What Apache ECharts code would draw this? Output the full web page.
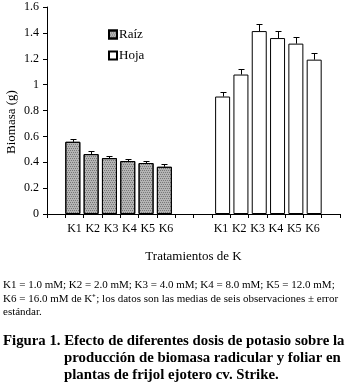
<!DOCTYPE html>
<html>
<head>
<meta charset="utf-8">
<script src="https://cdn.jsdelivr.net/npm/echarts@6/dist/echarts.min.js"></script>
<style>
  html, body { margin: 0; padding: 0; background: #fff; }
  #chart { width: 348px; height: 389px; }
</style>
</head>
<body>
<div id="chart"></div>
<script>
// categorias del eje (huecos vacios entre grupos)
var categories = ['', 'K1', 'K2', 'K3', 'K4', 'K5', 'K6', '', '', 'K1', 'K2', 'K3', 'K4', 'K5', 'K6', ''];
var raizPos = [1, 2, 3, 4, 5, 6];
var hojaPos = [9, 10, 11, 12, 13, 14];
var raizVals = [0.558, 0.463, 0.432, 0.409, 0.394, 0.365];
var raizErr = [0.025, 0.023, 0.020, 0.018, 0.018, 0.018];
var hojaVals = [0.908, 1.078, 1.414, 1.360, 1.317, 1.193];
var hojaErr = [0.036, 0.043, 0.057, 0.057, 0.054, 0.052];
var yTicks = [0, 0.2, 0.4, 0.6, 0.8, 1, 1.2, 1.4, 1.6];

var serif = 'Liberation Serif';
var barW = 15;

function fillSeries(pos, vals) {
    var arr = [];
    for (var i = 0; i < categories.length; i++) arr.push(null);
    for (var j = 0; j < pos.length; j++) arr[pos[j]] = vals[j];
    return arr;
}
function errData(pos, vals, err) {
    var arr = [];
    for (var j = 0; j < pos.length; j++) arr.push([pos[j], vals[j], vals[j] + err[j]]);
    return arr;
}
function errorItem(sign) {
    return function (params, api) {
        var idx = api.value(0);
        var p0 = api.coord([idx, api.value(1)]);
        var p1 = api.coord([idx, api.value(2)]);
        var slot = api.size([1, 0])[0];
        var x = Math.round(p0[0] + sign * (slot - barW) / 2) + 0.5;
        var y1 = Math.round(p1[1]) + 0.5;
        return {
            type: 'group',
            children: [
                { type: 'line', shape: { x1: x, y1: p0[1], x2: x, y2: y1 }, style: { stroke: '#000', lineWidth: 1 } },
                { type: 'line', shape: { x1: x - 3, y1: y1, x2: x + 3, y2: y1 }, style: { stroke: '#000', lineWidth: 1 } }
            ]
        };
    };
}

var captionFont = '11px "Liberation Serif"';
var titleFont = 'bold 14.8px "Liberation Serif"';

// punteado gris de las barras de raiz
var stipple = {
    symbol: 'rect',
    symbolSize: 1,
    color: 'rgba(70,70,70,0.55)',
    dashArrayX: [[1, 1], [0, 1, 1, 0]],
    dashArrayY: [1, 1],
    rotation: 0
};

var option = {
    animation: false,
    backgroundColor: '#fff',
    grid: { left: 47, right: 8, top: 7, bottom: 175 },
    legend: {
        data: ['Raíz', 'Hoja'],
        orient: 'vertical',
        left: 103,
        top: 23,
        itemWidth: 8,
        itemHeight: 8,
        itemGap: 8,
        icon: 'rect',
        textStyle: { fontFamily: serif, fontSize: 13, color: '#000', padding: [0, 0, 0, -3] }
    },
    xAxis: {
        type: 'category',
        data: categories,
        boundaryGap: true,
        axisLine: { lineStyle: { color: '#000', width: 1 } },
        axisTick: { show: true, interval: 0, length: 4, lineStyle: { color: '#000' } },
        axisLabel: { interval: 0, color: '#000', fontFamily: serif, fontSize: 12, margin: 9 },
        name: 'Tratamientos de K',
        nameLocation: 'middle',
        nameGap: 36,
        nameTextStyle: { fontFamily: serif, fontSize: 13, color: '#000', verticalAlign: 'top' }
    },
    yAxis: {
        type: 'value',
        min: 0,
        max: 1.6,
        interval: 0.2,
        axisLine: { show: true, lineStyle: { color: '#000', width: 1 } },
        axisTick: { show: true, length: 4, lineStyle: { color: '#000' } },
        axisLabel: {
            color: '#000', fontFamily: serif, fontSize: 12, margin: 8,
            formatter: function (v) {
                for (var i = 0; i < yTicks.length; i++) {
                    if (Math.abs(yTicks[i] - v) < 1e-6) return String(yTicks[i]);
                }
                return '';
            }
        },
        splitLine: { show: false }
    },
    series: [
        {
            name: 'Raíz',
            type: 'bar',
            barWidth: barW,
            barGap: '-78%',
            itemStyle: { color: '#b4b4b4', borderColor: '#000', borderWidth: 1, decal: stipple },
            data: fillSeries(raizPos, raizVals)
        },
        {
            name: 'Hoja',
            type: 'bar',
            barWidth: barW,
            barGap: '-78%',
            itemStyle: { color: '#fff', borderColor: '#000', borderWidth: 1 },
            data: fillSeries(hojaPos, hojaVals)
        },
        {
            name: 'errRaiz',
            type: 'custom',
            renderItem: errorItem(-1),
            data: errData(raizPos, raizVals, raizErr),
            z: 5
        },
        {
            name: 'errHoja',
            type: 'custom',
            renderItem: errorItem(1),
            data: errData(hojaPos, hojaVals, hojaErr),
            z: 5
        }
    ],
    graphic: [
        {
            type: 'text', x: 12, y: 122, rotation: Math.PI / 2,
            style: { text: 'Biomasa (g)', font: '13px "Liberation Serif"', fill: '#000', align: 'center', verticalAlign: 'middle' }
        },
        {
            type: 'text', x: 3, y: 285,
            style: { text: 'K1 = 1.0 mM; K2 = 2.0 mM; K3 = 4.0 mM; K4 = 8.0 mM; K5 = 12.0 mM;', font: captionFont, fill: '#000', verticalAlign: 'middle' }
        },
        {
            type: 'text', x: 3, y: 299.5,
            style: { text: 'K6 = 16.0 mM de K\u207A; los datos son las medias de seis observaciones \u00B1 error', font: captionFont, fill: '#000', verticalAlign: 'middle' }
        },
        {
            type: 'text', x: 3, y: 312,
            style: { text: 'estándar.', font: captionFont, fill: '#000', verticalAlign: 'middle' }
        },
        {
            type: 'text', x: 3, y: 341,
            style: { text: 'Figura 1. Efecto de diferentes dosis de potasio sobre la', font: titleFont, fill: '#000', verticalAlign: 'middle' }
        },
        {
            type: 'text', x: 64, y: 358,
            style: { text: 'producción de biomasa radicular y foliar en', font: titleFont, fill: '#000', verticalAlign: 'middle' }
        },
        {
            type: 'text', x: 64, y: 375,
            style: { text: 'plantas de frijol ejotero cv. Strike.', font: titleFont, fill: '#000', verticalAlign: 'middle' }
        }
    ]
};

var myChart = echarts.init(document.getElementById('chart'), null, { renderer: 'canvas' });
myChart.setOption(option);
</script>
</body>
</html>
